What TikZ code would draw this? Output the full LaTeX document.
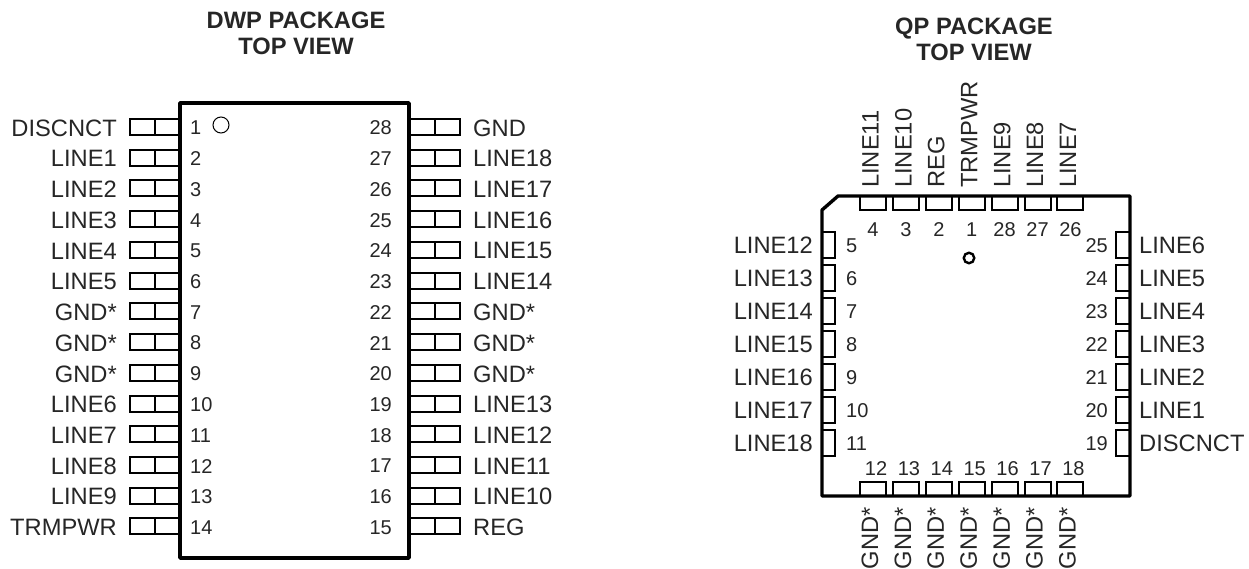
\documentclass[tikz,border=0pt]{standalone}
\usepackage{fontspec}
\setmainfont{Liberation Sans}
\tikzset{
    body/.style={line width=3.4pt, line join=round, line cap=round},
    pin/.style={line width=2pt, line join=miter},
    sig/.style={font=\fontsize{23.7}{24}\selectfont, inner sep=0pt, text=black!85},
    num/.style={font=\fontsize{20}{21}\selectfont, inner sep=0pt, text=black!85},
    ttl/.style={font=\fontsize{23.7}{26}\selectfont\bfseries, inner sep=0pt, align=center, text=black!85}
}
\begin{document}
\begin{tikzpicture}[x=1pt,y=-1pt]
    \useasboundingbox (0,0) rectangle (1249,569);
    \node[ttl] (dwptitle) at (296,33) {DWP PACKAGE\\TOP VIEW};
    \node[ttl] (qptitle) at (974,39) {QP PACKAGE\\TOP VIEW};
    % DWP
    \draw[body] (180,558) -- (180,103) -- (409,103) -- (409,558) -- cycle;
    \node[draw, circle, line width=1pt, minimum size=16pt, inner sep=0pt] (dwpdot) at (221,125) {};
    \foreach \n/\lab [evaluate=\n as \yy using 127+30.73*(\n-1)] in {1/DISCNCT,2/LINE1,3/LINE2,4/LINE3,5/LINE4,6/LINE5,7/GND*,8/GND*,9/GND*,10/LINE6,11/LINE7,12/LINE8,13/LINE9,14/TRMPWR}{
        \draw[pin] (180,\yy-8) -- (130,\yy-8) -- (130,\yy+8) -- (180,\yy+8) (155,\yy-8) -- (155,\yy+8);
        \node[sig, anchor=east] (dl\n) at (117,\yy+1) {\lab};
        \node[num, anchor=west] (dn\n) at (190,\yy+1) {\n};
    }
    \foreach \n/\lab [evaluate=\n as \yy using 127+30.73*(28-\n)] in {28/GND,27/LINE18,26/LINE17,25/LINE16,24/LINE15,23/LINE14,22/GND*,21/GND*,20/GND*,19/LINE13,18/LINE12,17/LINE11,16/LINE10,15/REG}{
        \draw[pin] (409,\yy-8) -- (460,\yy-8) -- (460,\yy+8) -- (409,\yy+8) (435,\yy-8) -- (435,\yy+8);
        \node[sig, anchor=west] (dl\n) at (473,\yy+1) {\lab};
        \node[num, anchor=east] (dn\n) at (392,\yy+1) {\n};
    }
    % QP
    \draw[body] (822,210) -- (838,196) -- (1130,196) -- (1130,496) -- (822,496) -- cycle;
    \node[draw, circle, line width=2.4pt, minimum size=10.5pt, inner sep=0pt] (qpdot) at (969,258) {};
    \foreach \i/\n/\lab [evaluate=\i as \xx using 873+32.9*\i] in {0/4/LINE11,1/3/LINE10,2/2/REG,3/1/TRMPWR,4/28/LINE9,5/27/LINE8,6/26/LINE7}{
        \draw[pin] (\xx-13,196) -- (\xx-13,210) -- (\xx+13,210) -- (\xx+13,196);
        \node[sig, rotate=90, anchor=west] (qt\n) at (\xx-2.5,188) {\lab};
        \node[num] (qnt\n) at (\xx,230) {\n};
    }
    \foreach \i/\n [evaluate=\i as \xx using 873+32.9*\i] in {0/12,1/13,2/14,3/15,4/16,5/17,6/18}{
        \draw[pin] (\xx-13,496) -- (\xx-13,482) -- (\xx+13,482) -- (\xx+13,496);
        \node[sig, rotate=90, anchor=east] (qb\n) at (\xx-3,507) {GND*};
        \node[num] (qnb\n) at (\xx+3,469) {\n};
    }
    \foreach \i/\n/\lab [evaluate=\i as \yy using 245+33*\i] in {0/5/LINE12,1/6/LINE13,2/7/LINE14,3/8/LINE15,4/9/LINE16,5/10/LINE17,6/11/LINE18}{
        \draw[pin] (822,\yy-13) -- (835,\yy-13) -- (835,\yy+13) -- (822,\yy+13);
        \node[sig, anchor=east] (ql\n) at (813,\yy) {\lab};
        \node[num, anchor=west] (qnl\n) at (846,\yy+1) {\n};
    }
    \foreach \i/\n/\lab [evaluate=\i as \yy using 245+33*\i] in {0/25/LINE6,1/24/LINE5,2/23/LINE4,3/22/LINE3,4/21/LINE2,5/20/LINE1,6/19/DISCNCT}{
        \draw[pin] (1130,\yy-13) -- (1116,\yy-13) -- (1116,\yy+13) -- (1130,\yy+13);
        \node[sig, anchor=west] (qr\n) at (1139,\yy) {\lab};
        \node[num, anchor=east] (qnr\n) at (1108,\yy+1) {\n};
    }
\end{tikzpicture}
\end{document}
